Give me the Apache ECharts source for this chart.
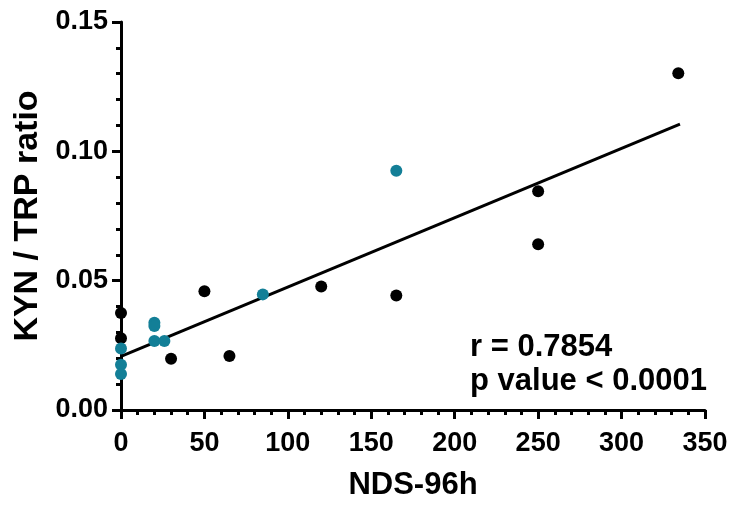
<!DOCTYPE html>
<html>
<head>
<meta charset="utf-8">
<script src="https://cdn.jsdelivr.net/npm/echarts@6/dist/echarts.min.js"></script>
<style>
html,body{margin:0;padding:0;background:#fff;}
#c{width:731px;height:509px;}
</style>
</head>
<body>
<div id="c"></div>
<script>
// Data
var blackX = [0, 0, 30, 50, 65, 120, 165, 250, 250, 334];
var blackY = [0.0375, 0.0277, 0.0198, 0.0459, 0.0209, 0.0477, 0.0443, 0.0846, 0.0641, 0.1302];
var tealX = [0, 0, 0, 20, 20, 20, 26, 85, 165];
var tealY = [0.0238, 0.0175, 0.0139, 0.0337, 0.0325, 0.0267, 0.0267, 0.0447, 0.0925];
var fitX = [0, 335];
var fitY = [0.0207, 0.1105];
var xTicks = [0, 50, 100, 150, 200, 250, 300, 350];
var yTicks = [0.00, 0.05, 0.10, 0.15];
var statText = ['r = 0.7854', 'p value < 0.0001'];

function zip(a, b){ return a.map(function(v, i){ return [v, b[i]]; }); }

var FONT = '"Liberation Sans", Arial, sans-serif';
var chart = echarts.init(document.getElementById('c'), null, {renderer: 'canvas'});
var axisCommon = {
  axisLine: {show: true, onZero: false, lineStyle: {color: '#000', width: 3}},
  axisTick: {show: true, inside: false, length: 9, lineStyle: {color: '#000', width: 3}},
  minorTick: {show: true, splitNumber: 5, length: 5, lineStyle: {color: '#000', width: 3}},
  splitLine: {show: false},
  nameLocation: 'middle',
  nameTextStyle: {color: '#000', fontSize: 31, fontWeight: 'bold', fontFamily: FONT},
  axisLabel: {color: '#000', fontSize: 27, fontWeight: 'bold', fontFamily: FONT}
};
chart.setOption({
  animation: false,
  backgroundColor: '#fff',
  grid: {left: 121, right: 26, top: 22, bottom: 99, containLabel: false},
  xAxis: Object.assign({}, axisCommon, {
    type: 'value', min: xTicks[0], max: xTicks[xTicks.length-1], interval: 50,
    name: 'NDS-96h', nameGap: 60,
    axisLabel: Object.assign({}, axisCommon.axisLabel, {margin: 20})
  }),
  yAxis: Object.assign({}, axisCommon, {
    type: 'value', min: yTicks[0], max: yTicks[yTicks.length-1], interval: 0.05,
    name: 'KYN / TRP ratio', nameGap: 64,
    nameTextStyle: {color: '#000', fontSize: 34, fontWeight: 'bold', fontFamily: FONT},
    axisLabel: Object.assign({}, axisCommon.axisLabel, {margin: 13, formatter: function(v){ return v.toFixed(2); }})
  }),
  graphic: [
    {type: 'text', left: 470, top: 332, style: {text: statText[0], fill: '#000', font: 'bold 31px ' + FONT}},
    {type: 'text', left: 470, top: 366, style: {text: statText[1], fill: '#000', font: 'bold 31px ' + FONT}}
  ],
  series: [
    {type: 'line', data: zip(fitX, fitY), symbol: 'none', lineStyle: {color: '#000', width: 3}, z: 2},
    {type: 'scatter', data: zip(blackX, blackY), symbolSize: 12, itemStyle: {color: '#000', opacity: 1}, z: 3},
    {type: 'scatter', data: zip(tealX, tealY), symbolSize: 12, itemStyle: {color: '#137f97', opacity: 1}, z: 4}
  ]
});
</script>
</body>
</html>
